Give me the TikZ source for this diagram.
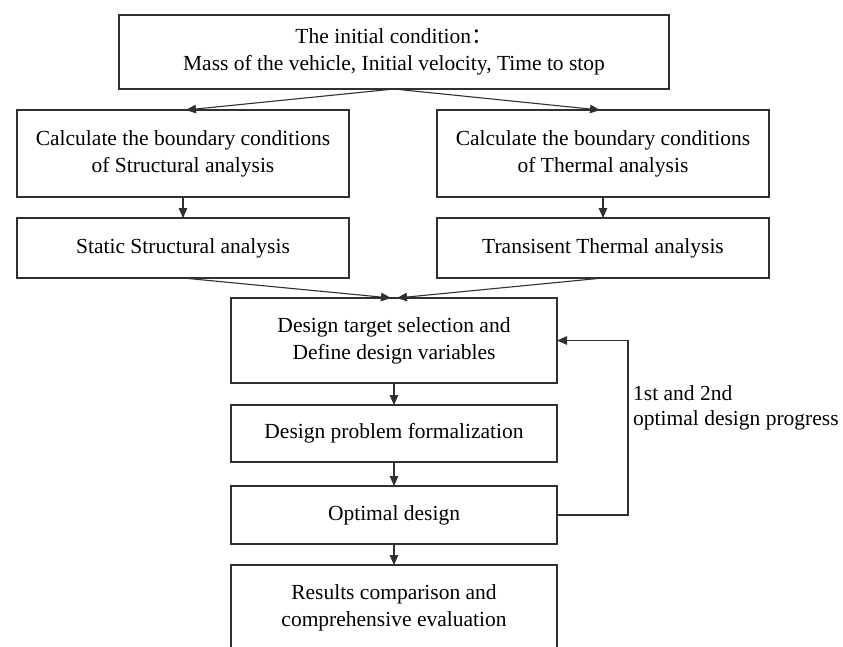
\documentclass[tikz,border=0pt]{standalone}
\usepackage{fontspec}
\setmainfont{Liberation Serif}
\newfontfamily\cjk{Noto Sans CJK SC}
\usepackage{xcolor}
\usetikzlibrary{positioning, arrows.meta}
\definecolor{edge}{HTML}{303030}
\tikzset{
  box/.style={draw=edge, line width=1.2pt, align=center, inner sep=2pt, outer sep=0pt,
              font=\fontsize{21.5}{27}\selectfont, text=black},
  flow/.style={-{Triangle[length=10pt, width=8.5pt]}, draw=edge, line width=1.1pt},
  lbl/.style={font=\fontsize{21.5}{25}\selectfont, align=left, text=black, inner sep=0pt}
}
\begin{document}
\begin{tikzpicture}[x=1pt, y=-1pt, node distance=21pt]
  \fill[white] (0,0) rectangle (843,646);
  \clip (0,0) rectangle (843,646);
  % initial data
  \node[box, minimum width=550pt, minimum height=74pt] (init) at (394,52)
    {The initial condition{\cjk ：}\\Mass of the vehicle, Initial velocity, Time to stop};
  % two branches
  \node[box, minimum width=332pt, minimum height=87pt] (l1) at (183,153.5)
    {Calculate the boundary conditions\\of Structural analysis};
  \node[box, minimum width=332pt, minimum height=87pt] (r1) at (603,153.5)
    {Calculate the boundary conditions\\of Thermal analysis};
  \node[box, minimum width=332pt, minimum height=60pt, below=of l1] (l2) {Static Structural analysis};
  \node[box, minimum width=332pt, minimum height=60pt, below=of r1] (r2) {Transisent Thermal analysis};
  % optimisation chain
  \node[box, minimum width=326pt, minimum height=85pt] (c1) at (394,340.5)
    {Design target selection and\\Define design variables};
  \node[box, minimum width=326pt, minimum height=57pt, below=22pt of c1] (c2) {Design problem formalization};
  \node[box, minimum width=326pt, minimum height=58pt, below=24pt of c2] (c3) {Optimal design};
  \node[box, minimum width=326pt, minimum height=86pt, below=of c3] (c4)
    {Results comparison and\\comprehensive evaluation};
  \node[lbl, anchor=west] (prog) at (633,407.5) {1st and 2nd\\optimal design progress};
  \draw[flow] (init.south) -- ([xshift=3pt]l1.north);
  \draw[flow] (init.south) -- ([xshift=-3pt]r1.north);
  \draw[flow] (l1) -- (l2); \draw[flow] (r1) -- (r2);
  \draw[flow] (l2.south) -- ([xshift=-3pt]c1.north);
  \draw[flow] (r2.south) -- ([xshift=3pt]c1.north);
  \draw[flow] (c1) -- (c2); \draw[flow] (c2) -- (c3); \draw[flow] (c3) -- (c4);
  \draw[flow] (c3.east) -- ++(71,0) |- (c1.east);
\end{tikzpicture}
\end{document}
